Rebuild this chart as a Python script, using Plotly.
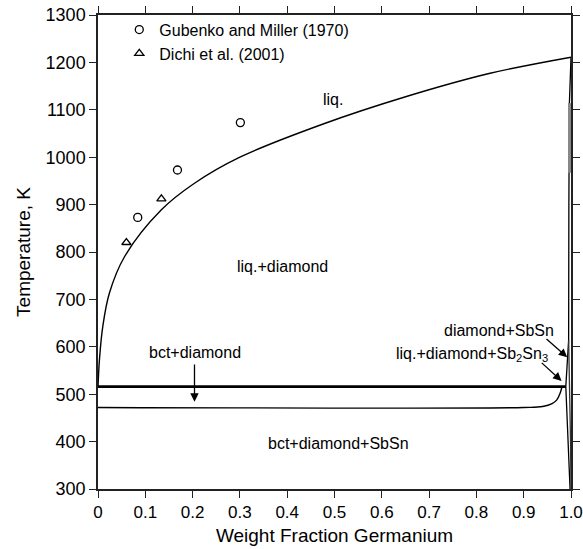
import plotly.graph_objects as go

# ---- data ----
liq_x = [0, 0.003, 0.01, 0.024, 0.056, 0.134, 0.204, 0.30, 0.476, 0.652, 0.829, 1.0]
liq_T = [515, 572, 642, 713, 790, 889, 945, 1000, 1070, 1128, 1177, 1211]

eut_x = [0, 0.989]
eut_T = [516, 516]

low_x = [0, 0.90, 0.94, 0.96, 0.970, 0.977, 0.981]
low_T = [472, 472, 474, 480, 488, 502, 516]

solv_x = [1.0, 0.9965, 0.9955, 0.995, 0.989, 0.991, 0.995, 0.998]
solv_T = [1211, 1110, 900, 614, 516, 470, 400, 300]

solv2_x = [0.995, 0.997, 0.999, 1.0]
solv2_T = [614, 520, 400, 300]

band_x = [0.998, 0.998]
band_T = [1114, 967]

gub_x = [0.084, 0.168, 0.301]
gub_T = [873, 973, 1073]
dic_x = [0.060, 0.134]
dic_T = [820, 912]

xt_vals = [0, 0.1, 0.2, 0.3, 0.4, 0.5, 0.6, 0.7, 0.8, 0.9, 1.0]
xt_text = ["0", "0.1", "0.2", "0.3", "0.4", "0.5", "0.6", "0.7", "0.8", "0.9", "1.0"]
yt_vals = [300, 400, 500, 600, 700, 800, 900, 1000, 1100, 1200, 1300]

FONT = "Liberation Sans, Arial, sans-serif"
fig = go.Figure()

def line(x, y, w=1.4, color="black", shape="linear"):
    fig.add_trace(go.Scatter(x=x, y=y, mode="lines", showlegend=False,
                             line=dict(color=color, width=w, shape=shape),
                             hoverinfo="skip"))

line(liq_x, liq_T, 1.4, shape="spline")
line(eut_x, eut_T, 2.6)
line(low_x, low_T, 1.4, shape="spline")
line(solv_x, solv_T, 1.3)
line(solv2_x, solv2_T, 1.3, color="#333")
line(band_x, band_T, 4, color="#888")

fig.add_trace(go.Scatter(x=gub_x, y=gub_T, mode="markers", name="Gubenko and Miller (1970)",
                         marker=dict(symbol="circle-open", size=8, color="black", line=dict(width=1.3))))
fig.add_trace(go.Scatter(x=dic_x, y=dic_T, mode="markers", name="Dichi et al. (2001)",
                         marker=dict(symbol="triangle-up-open", size=8, color="black", line=dict(width=1.3))))

ann = [
    dict(x=0.497, y=1121, text="liq."),
    dict(x=0.39, y=770, text="liq.+diamond"),
    dict(x=0.206, y=587, text="bct+diamond"),
    dict(x=0.509, y=397, text="bct+diamond+SbSn"),
    dict(x=0.848, y=635, text="diamond+SbSn"),
    dict(x=0.79, y=583, text="liq.+diamond+Sb<sub>2</sub>Sn<sub>3</sub>"),
]
annotations = []
for a in ann:
    annotations.append(dict(x=a["x"], y=a["y"], xref="x", yref="y", text=a["text"],
                            showarrow=False, font=dict(family=FONT, size=16, color="black")))
# arrows
arrows = [
    (0.204, 484, 0.204, 566),
    (0.992, 578, 0.945, 619),
    (0.980, 528, 0.935, 569),
]
for (hx, hy, tx, ty) in arrows:
    annotations.append(dict(x=hx, y=hy, ax=tx, ay=ty, xref="x", yref="y", axref="x", ayref="y",
                            text="", showarrow=True, arrowhead=2, arrowsize=1.3, arrowwidth=1.3,
                            arrowcolor="black"))

fig.update_layout(
    width=583, height=549,
    margin=dict(l=98, r=12, t=15, b=60),
    paper_bgcolor="white", plot_bgcolor="white",
    font=dict(family=FONT, size=17, color="black"),
    annotations=annotations,
    showlegend=True,
    legend=dict(x=0.045, y=1.005, xanchor="left", yanchor="top", bgcolor="rgba(0,0,0,0)",
                font=dict(family=FONT, size=16), itemwidth=30, tracegroupgap=0),
)
fig.update_xaxes(range=[0, 1.0], tickvals=xt_vals, ticktext=xt_text, ticks="outside", ticklen=7,
                 tickwidth=1.3, tickcolor="#222", showline=True, linecolor="#222", linewidth=1.5,
                 mirror="ticks", showgrid=False, zeroline=False, automargin=False,
                 title=dict(text="Weight Fraction Germanium", font=dict(size=19), standoff=8),
                 tickfont=dict(size=17))
fig.update_yaxes(range=[300, 1300], tickvals=yt_vals, ticks="outside", ticklen=7,
                 tickwidth=1.3, tickcolor="#222", showline=True, linecolor="#222", linewidth=1.5,
                 mirror="ticks", showgrid=False, zeroline=False, automargin=False,
                 title=dict(text="Temperature, K", font=dict(size=19), standoff=10),
                 tickfont=dict(size=18))

fig.write_html("out.html")
